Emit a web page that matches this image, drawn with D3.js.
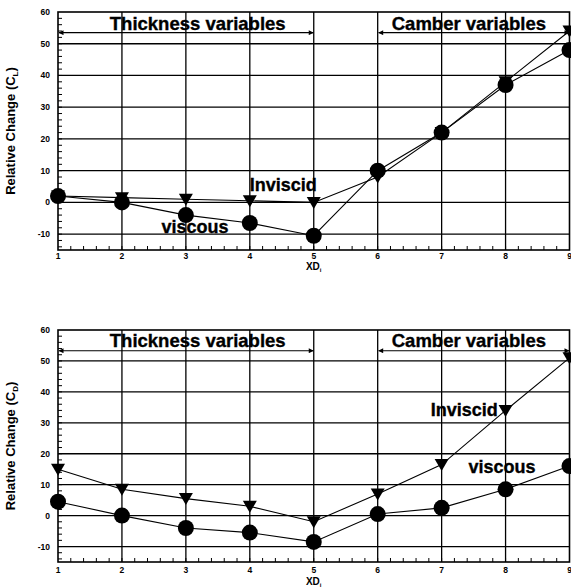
<!DOCTYPE html>
<html>
<head>
<meta charset="utf-8">
<script src="https://cdn.jsdelivr.net/npm/d3@7"></script>
<style>
  body { margin: 0; background: #fff; }
  svg { display: block; }
  text { font-family: "Liberation Sans", Arial, Helvetica, sans-serif; font-weight: bold; fill: #000; }
  .big { stroke: #000; stroke-width: 0.35px; }
</style>
</head>
<body>
<svg id="chart" width="571" height="588"></svg>
<script>
// Design variable index along the section
const designVars = [1, 2, 3, 4, 5, 6, 7, 8, 9];

// Relative change in lift coefficient (%)
const liftViscous  = [2, 0, -4, -6.5, -10.5, 10, 22, 37, 48];
const liftInviscid = [2, 1.5, 1, 0.5, 0, 8, 22, 38, 54];

// Relative change in drag coefficient (%)
const dragViscous  = [4.5, 0, -4, -5.5, -8.5, 0.5, 2.5, 8.5, 16];
const dragInviscid = [15, 8.5, 5.5, 3, -2, 7, 16.5, 34, 51];

const yTickValues = [-10, 0, 10, 20, 30, 40, 50, 60];
const xTickValues = [1, 2, 3, 4, 5, 6, 7, 8, 9];

const svg = d3.select("#chart");

// arrowhead used by the variable-group brackets
const defs = svg.append("defs");
defs.append("marker")
  .attr("id", "arrow")
  .attr("viewBox", "0 0 10 10")
  .attr("refX", 9).attr("refY", 5)
  .attr("markerWidth", 7).attr("markerHeight", 5)
  .attr("markerUnits", "userSpaceOnUse")
  .attr("orient", "auto-start-reverse")
  .append("path").attr("d", "M0,0 L10,5 L0,10 Z").attr("fill", "#000");

const panels = [
  {
    top: 12, bottom: 250, sub: "L",
    viscous: liftViscous, inviscid: liftInviscid,
    tickLabelY: 259, xdY: 270,
    inviscidLabel: [4.0, 3.6], viscousLabel: [2.62, -9.8],
    groupLabelY: 54.2, bracketY: 53.5
  },
  {
    top: 330, bottom: 562, sub: "D",
    viscous: dragViscous, inviscid: dragInviscid,
    tickLabelY: 573, xdY: 585,
    inviscidLabel: [6.83, 32.2], viscousLabel: [7.42, 13.8],
    groupLabelY: 54.4, bracketY: 53.3
  }
];

const left = 58, right = 569.5;

panels.forEach(p => {
  const x = d3.scaleLinear().domain([1, 9]).range([left, right]);
  const y = d3.scaleLinear().domain([-15, 60]).range([p.bottom, p.top]);
  const g = svg.append("g");

  // grid
  g.append("g").selectAll("line").data(yTickValues.filter(v => v < 60)).join("line")
    .attr("x1", left).attr("x2", right)
    .attr("y1", d => y(d)).attr("y2", d => y(d))
    .attr("stroke", "#000").attr("stroke-width", 1.3);
  g.append("g").selectAll("line").data(xTickValues.filter(v => v > 1 && v < 9)).join("line")
    .attr("x1", d => x(d)).attr("x2", d => x(d))
    .attr("y1", p.top).attr("y2", p.bottom)
    .attr("stroke", "#000").attr("stroke-width", 1.3);

  // frame
  g.append("rect")
    .attr("x", left).attr("y", p.top)
    .attr("width", right - left).attr("height", p.bottom - p.top)
    .attr("fill", "none").attr("stroke", "#000").attr("stroke-width", 1.6);

  // minor ticks, pointing inward
  const yMinor = d3.range(-14, 60, 2);
  g.append("g").selectAll("line").data(yMinor).join("line")
    .attr("x1", left).attr("x2", left + 4)
    .attr("y1", d => y(d)).attr("y2", d => y(d))
    .attr("stroke", "#000").attr("stroke-width", 1);
  const xMinor = d3.range(1.2, 9, 0.2);
  g.append("g").selectAll("line").data(xMinor).join("line")
    .attr("x1", d => x(d)).attr("x2", d => x(d))
    .attr("y1", p.bottom).attr("y2", p.bottom - 4)
    .attr("stroke", "#000").attr("stroke-width", 1);

  // tick labels
  g.append("g").selectAll("text").data(yTickValues).join("text")
    .attr("x", 50).attr("y", d => y(d)).attr("dy", "0.35em")
    .attr("text-anchor", "end").attr("font-size", 8.5)
    .text(d => d);
  g.append("g").selectAll("text").data(xTickValues).join("text")
    .attr("x", d => x(d)).attr("y", p.tickLabelY)
    .attr("text-anchor", "middle").attr("font-size", 8.5)
    .text(d => d);

  // axis titles
  const xd = g.append("text").attr("x", x(5)).attr("y", p.xdY)
    .attr("text-anchor", "middle").attr("font-size", 10);
  xd.append("tspan").text("XD");
  xd.append("tspan").attr("font-size", 6).attr("dy", 2).text("i");

  const yl = g.append("text")
    .attr("transform", `translate(15,${(p.top + p.bottom) / 2}) rotate(-90)`)
    .attr("text-anchor", "middle").attr("font-size", 13);
  yl.append("tspan").text("Relative Change (C");
  yl.append("tspan").attr("font-size", 8).attr("dy", 3).text(p.sub);
  yl.append("tspan").attr("dy", -3).text(")");

  // variable-group brackets
  const brackets = [[1, 5], [6, 9]];
  g.append("g").selectAll("line").data(brackets).join("line")
    .attr("x1", d => x(d[0]) + 1).attr("x2", d => x(d[1]) - 0.5)
    .attr("y1", y(p.bracketY)).attr("y2", y(p.bracketY))
    .attr("stroke", "#000").attr("stroke-width", 1.1)
    .attr("marker-start", "url(#arrow)").attr("marker-end", "url(#arrow)");
  g.append("text").attr("class", "big").attr("x", x(1.81)).attr("y", y(p.groupLabelY))
    .attr("font-size", 18.5).text("Thickness variables");
  g.append("text").attr("class", "big").attr("x", x(6.22)).attr("y", y(p.groupLabelY))
    .attr("font-size", 18.5).text("Camber variables");

  // series lines
  const line = d3.line().x((d, i) => x(designVars[i])).y(d => y(d));
  g.append("path").datum(p.inviscid).attr("d", line)
    .attr("fill", "none").attr("stroke", "#000").attr("stroke-width", 1.1);
  g.append("path").datum(p.viscous).attr("d", line)
    .attr("fill", "none").attr("stroke", "#000").attr("stroke-width", 1.1);

  // inviscid: downward triangles
  g.append("g").selectAll("path").data(p.inviscid).join("path")
    .attr("transform", (d, i) => `translate(${x(designVars[i])},${y(d)})`)
    .attr("d", "M-7,-5.5 L7,-5.5 L0,6.5 Z")
    .attr("fill", "#000");
  // viscous: filled circles
  g.append("g").selectAll("circle").data(p.viscous).join("circle")
    .attr("cx", (d, i) => x(designVars[i])).attr("cy", d => y(d))
    .attr("r", 8).attr("fill", "#000");

  // series labels
  g.append("text").attr("class", "big").attr("x", x(p.inviscidLabel[0])).attr("y", y(p.inviscidLabel[1]))
    .attr("font-size", 18).text("Inviscid");
  g.append("text").attr("class", "big").attr("x", x(p.viscousLabel[0])).attr("y", y(p.viscousLabel[1]))
    .attr("font-size", 18).text("viscous");
});
</script>
</body>
</html>
